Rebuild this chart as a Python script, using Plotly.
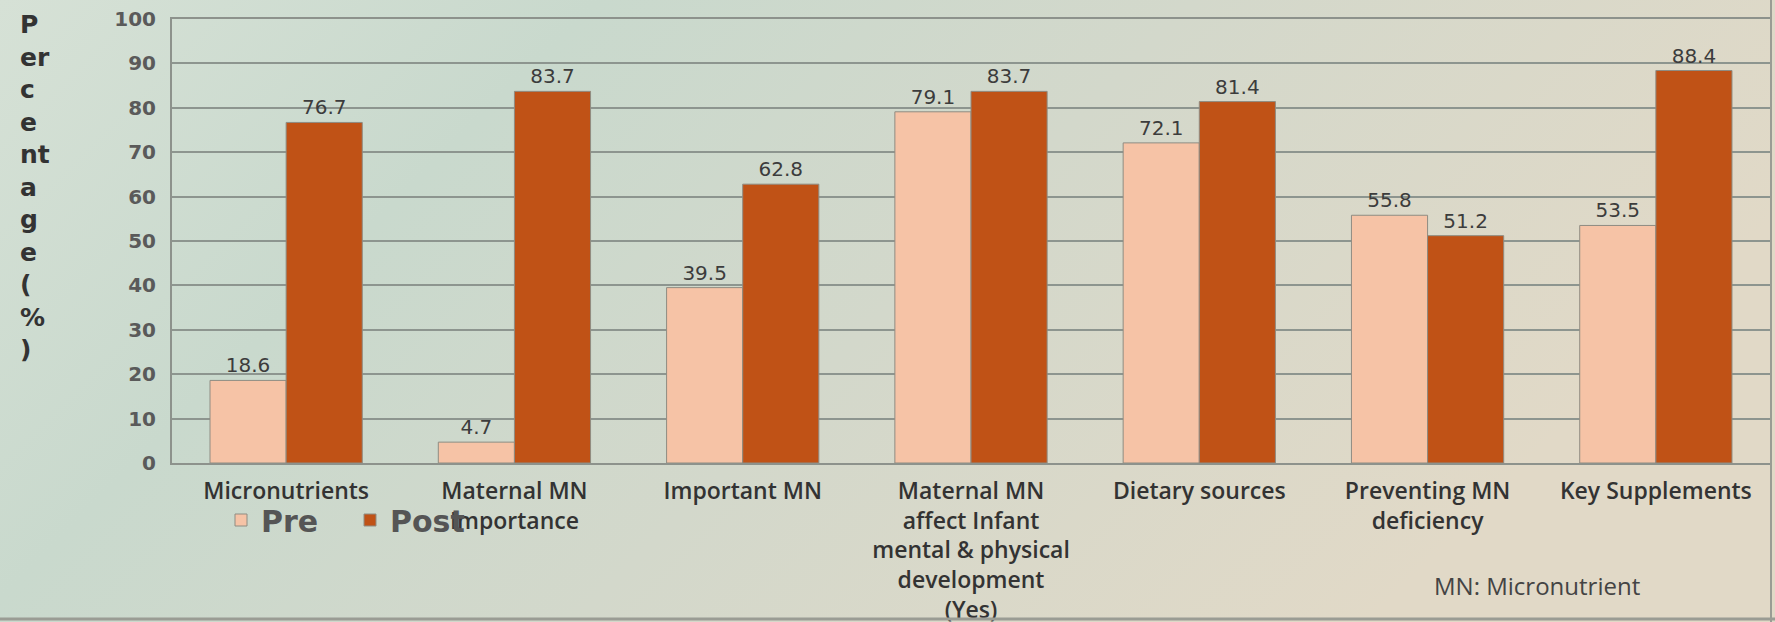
import base64
import plotly.graph_objects as go

categories = [
    "Micronutrients",
    "Maternal MN<br>Importance",
    "Important MN",
    "Maternal MN<br>affect Infant<br>mental & physical<br>development<br>(Yes)",
    "Dietary sources",
    "Preventing MN<br>deficiency",
    "Key Supplements",
]
pre_values = [18.6, 4.7, 39.5, 79.1, 72.1, 55.8, 53.5]
post_values = [76.7, 83.7, 62.8, 83.7, 81.4, 51.2, 88.4]
y_ticks = [0, 10, 20, 30, 40, 50, 60, 70, 80, 90, 100]
y_title_lines = ["P", "er", "c", "e", "nt", "a", "g", "e", "(", "%", ")"]

W, H = 1775, 622
L, R, T, B = 172, 5, 19, 159
PW, PH = W - L - R, H - T - B

svg = (
    '<svg xmlns="http://www.w3.org/2000/svg" width="1775" height="622">'
    '<defs><linearGradient id="g" x1="0" y1="0" x2="1" y2="0.35">'
    '<stop offset="0" stop-color="#d6e1d6"/>'
    '<stop offset="0.3" stop-color="#c9d9cd"/>'
    '<stop offset="0.6" stop-color="#d3d8cb"/>'
    '<stop offset="1" stop-color="#e1d9c7"/>'
    '</linearGradient></defs>'
    '<rect width="1775" height="622" fill="url(#g)"/></svg>'
)
bg_src = "data:image/svg+xml;base64," + base64.b64encode(svg.encode()).decode()

fig = go.Figure()
fig.add_trace(go.Bar(
    name="Pre", x=categories, y=pre_values,
    marker=dict(color="#f6c3a6", line=dict(color="#8f8c82", width=1)),
    text=[f"{v}" for v in pre_values], textposition="outside",
    textfont=dict(family="DejaVu Sans", size=20, color="#3c3c3c"),
    cliponaxis=False,
))
fig.add_trace(go.Bar(
    name="Post", x=categories, y=post_values,
    marker=dict(color="#c05216", line=dict(color="#8f8c82", width=1)),
    text=[f"{v}" for v in post_values], textposition="outside",
    textfont=dict(family="DejaVu Sans", size=20, color="#3c3c3c"),
    cliponaxis=False,
))

fig.update_layout(
    width=W, height=H,
    margin=dict(l=L, r=R, t=T, b=B, pad=0, autoexpand=False),
    paper_bgcolor="#d3dccf",
    plot_bgcolor="rgba(0,0,0,0)",
    barmode="group", bargap=0.333, bargroupgap=0,
    showlegend=True,
    legend=dict(
        orientation="h", x=(221 - L) / PW, xanchor="left",
        y=(463 - 520) / PH, yanchor="middle",
        font=dict(family="DejaVu Sans", size=30, color="#555555", weight="bold"),
        bgcolor="rgba(0,0,0,0)", itemwidth=30,
        entrywidth=84, entrywidthmode="pixels",
        traceorder="normal",
    ),
    images=[dict(
        source=bg_src, xref="paper", yref="paper",
        x=-L / PW, y=1 + T / PH, sizex=W / PW, sizey=H / PH,
        xanchor="left", yanchor="top", sizing="stretch", layer="below",
    )],
)

fig.update_xaxes(
    automargin=False,
    showline=True, linecolor="#8d928c", linewidth=2, mirror=True,
    ticks="outside", ticklen=6, tickcolor="rgba(0,0,0,0)",
    tickfont=dict(family="Open Sans", size=23, color="#333333", weight=600),
    tickangle=0,
)
fig.update_yaxes(
    automargin=False,
    range=[0, 100], tickvals=y_ticks,
    showgrid=True, gridcolor="#8d958f", gridwidth=2,
    showline=True, linecolor="#8d928c", linewidth=2, mirror=True,
    zeroline=False,
    ticks="outside", ticklen=10, tickcolor="rgba(0,0,0,0)",
    tickfont=dict(family="DejaVu Sans", size=20, color="#5a5a5a", weight="bold"),
)

fig.add_annotation(
    text="<br>".join(y_title_lines), xref="paper", yref="paper",
    x=-(L - 18) / PW, y=1 + (T - 8) / PH, xanchor="left", yanchor="top",
    align="left", showarrow=False,
    font=dict(family="DejaVu Sans", size=25, color="#333333", weight="bold"),
)
fig.add_annotation(
    text="MN: Micronutrient", xref="paper", yref="paper",
    x=(1537 - L) / PW, y=(463 - 585) / PH, xanchor="center", yanchor="middle",
    showarrow=False,
    font=dict(family="Open Sans", size=24, color="#444444"),
)
# slide frame lines
fig.add_shape(type="line", xref="paper", yref="paper",
              x0=-L / PW, x1=1 + R / PW, y0=-(B - 3) / PH, y1=-(B - 3) / PH,
              line=dict(color="#9a9c94", width=3))
fig.add_shape(type="line", xref="paper", yref="paper",
              x0=1 + 1 / PW, x1=1 + 1 / PW, y0=-B / PH, y1=1 + T / PH,
              line=dict(color="#9a9c94", width=2))

fig.write_html("out.html")
